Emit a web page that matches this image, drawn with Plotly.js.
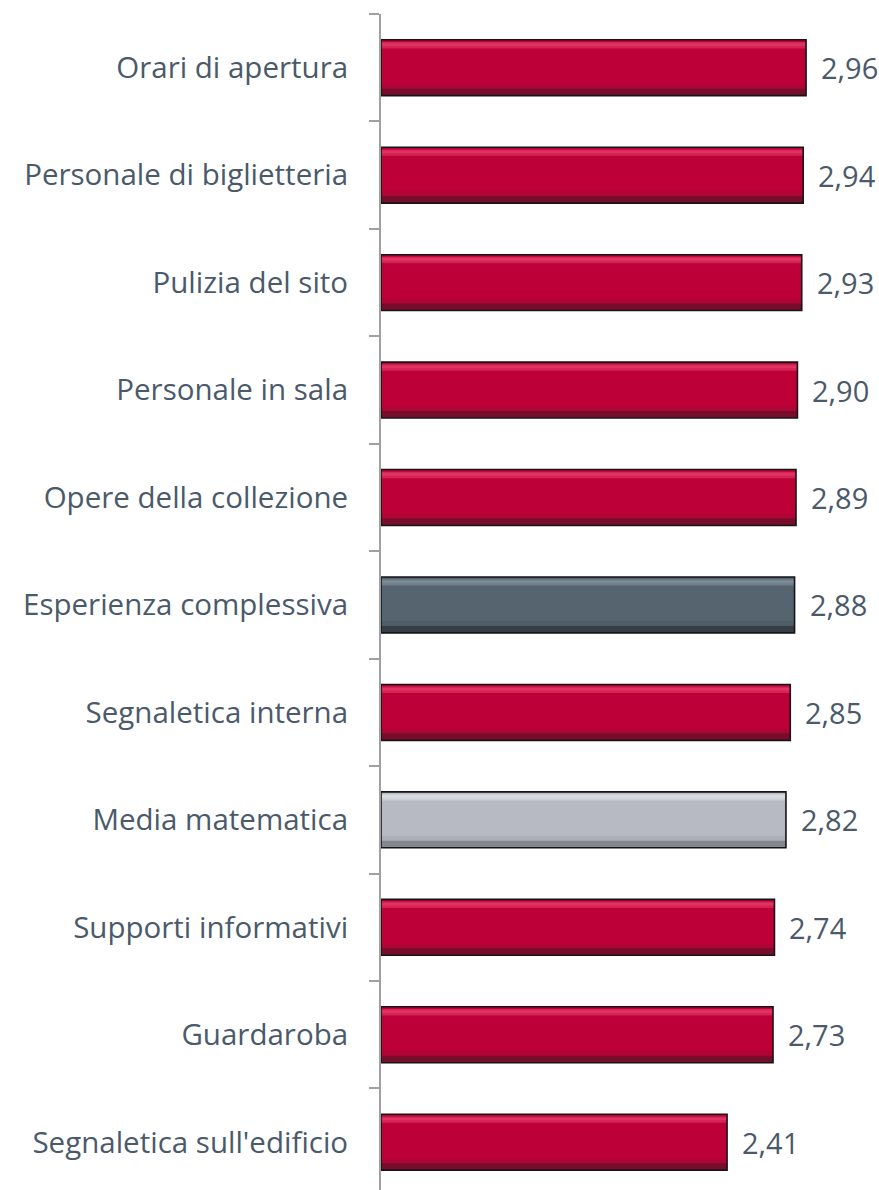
<!DOCTYPE html>
<html>
<head>
<meta charset="utf-8">
<script src="https://cdn.plot.ly/plotly-3.0.1.min.js"></script>
<style>html,body{margin:0;padding:0;background:#fff;}#chart{width:879px;height:1190px;}</style>
</head>
<body>
<div id="chart"></div>
<script>
const categories = [
  "Orari di apertura",
  "Personale di biglietteria",
  "Pulizia del sito",
  "Personale in sala",
  "Opere della collezione",
  "Esperienza complessiva",
  "Segnaletica interna",
  "Media matematica",
  "Supporti informativi",
  "Guardaroba",
  "Segnaletica sull'edificio"
];
const values = [2.96, 2.94, 2.93, 2.90, 2.89, 2.88, 2.85, 2.82, 2.74, 2.73, 2.41];
const barKind = ["item","item","item","item","item","overall","item","mean","item","item","item"];

const palette = {
  item:    {base: "#BE0039", light: "#EA4670", mid: "#9A0A33", dark: "#6A1029"},
  overall: {base: "#56646F", light: "#8898A4", mid: "#47535C", dark: "#30383F"},
  mean:    {base: "#B7BAC3", light: "#E4E6EB", mid: "#9C9FA8", dark: "#7C7F88"}
};
const col = key => barKind.map(k => palette[k][key]);

const textColor = "#4A5A6B";
const fontFam = "Open Sans, sans-serif";

const W = 0.52;
function band(color, width, offset, opacity) {
  return {type: "bar", orientation: "h", y: categories, x: values,
    width: width, offset: offset,
    marker: {color: color, line: {width: 0}}, opacity: opacity,
    hoverinfo: "skip", showlegend: false};
}
const traces = [
  {type: "bar", orientation: "h", y: categories, x: values,
   width: W, offset: -W/2,
   marker: {color: col("base"), line: {width: 0}},
   hoverinfo: "skip", showlegend: false},
  band(col("light"), 0.06, -W/2 + 0.02, 0.5),
  band(col("light"), 0.025, -W/2 + 0.032, 0.5),
  band(col("mid"), 0.06, W/2 - 0.11, 0.4),
  band(col("dark"), 0.06, W/2 - 0.065, 0.85),
  {type: "bar", orientation: "h", y: categories, x: values,
   width: W, offset: -W/2,
   marker: {color: "rgba(0,0,0,0)", line: {color: "#151515", width: 1.6}},
   hoverinfo: "skip", showlegend: false}
];

const annotations = categories.map((c, i) => ({
  x: values[i], y: c, xref: "x", yref: "y",
  text: values[i].toFixed(2).replace(".", ","),
  showarrow: false, xanchor: "left", yanchor: "middle", xshift: 13,
  font: {family: fontFam, size: 29, color: textColor}
}));

const layout = {
  width: 879, height: 1190,
  margin: {l: 381, r: 0, t: 14, b: 0},
  paper_bgcolor: "#fff", plot_bgcolor: "#fff",
  barmode: "overlay",
  showlegend: false,
  font: {family: fontFam, color: textColor},
  annotations: annotations,
  xaxis: {range: [0, 3.468], visible: false, fixedrange: true},
  yaxis: {
    type: "category",
    range: [10.445, -0.5],
    showline: true, linecolor: "#A0A0A0", linewidth: 2,
    ticks: "outside", tickson: "boundaries", ticklen: 10, tickcolor: "#A0A0A0", tickwidth: 2,
    ticklabelstandoff: 25,
    tickfont: {family: fontFam, size: 29.5, color: textColor},
    showgrid: false, zeroline: false, fixedrange: true
  }
};

Plotly.newPlot("chart", traces, layout, {displayModeBar: false, staticPlot: true});
</script>
</body>
</html>
